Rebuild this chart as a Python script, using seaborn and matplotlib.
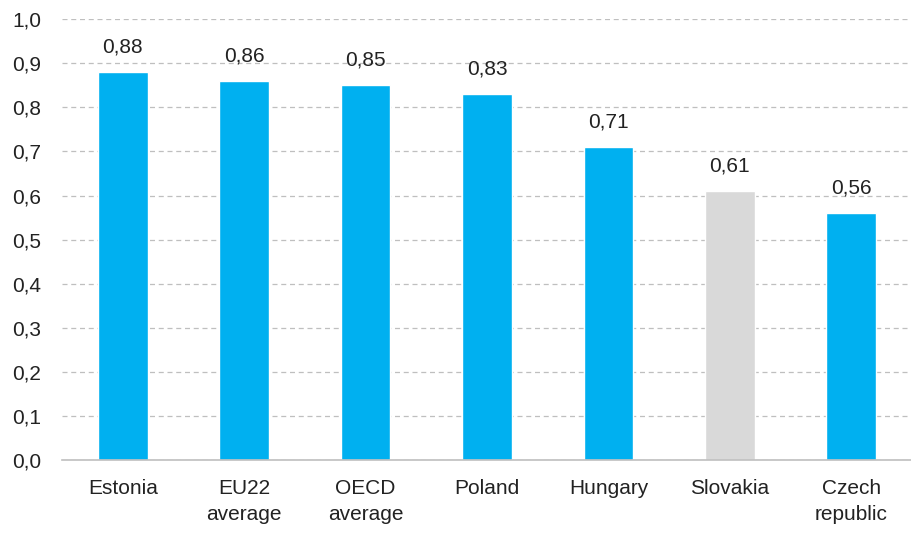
import pandas as pd
import numpy as np
import matplotlib
matplotlib.use("Agg")
import matplotlib.pyplot as plt
import seaborn as sns
from matplotlib.ticker import FuncFormatter, MultipleLocator, FixedLocator

# Data
categories = ['Estonia', 'EU22\naverage', 'OECD\naverage', 'Poland',
              'Hungary', 'Slovakia', 'Czech\nrepublic']
values = [0.88, 0.86, 0.85, 0.83, 0.71, 0.61, 0.56]
bar_colors = ['#00B0F0', '#00B0F0', '#00B0F0', '#00B0F0',
              '#00B0F0', '#D9D9D9', '#00B0F0']

sns.set_style("white")
plt.rcParams['font.family'] = ['Liberation Sans', 'DejaVu Sans']

df = pd.DataFrame({'country': categories, 'value': values})
palette = dict(zip(categories, bar_colors))

fig = plt.figure(figsize=(9.12, 5.33), dpi=100)
ax = fig.add_axes([0.068, 0.137, 0.932, 0.827])

sns.barplot(data=df, x='country', y='value', hue='country', palette=palette,
            width=0.41, saturation=1, legend=False, ax=ax)

# Value labels
for i, v in enumerate(values):
    ax.text(i, v + 0.036, f'{v:.2f}'.replace('.', ','), ha='center',
            va='bottom', fontsize=15, color='#222222')

ax.set_ylim(0, 1.0)
ax.set_xlim(-0.5, len(categories) - 0.5)
ax.yaxis.set_major_locator(MultipleLocator(0.1))
ax.yaxis.set_major_formatter(FuncFormatter(lambda y, _: f'{y:.1f}'.replace('.', ',')))
ax.grid(True, axis='y', linestyle=(0, (4, 3)), color='#BFBFBF', linewidth=0.9)
ax.set_axisbelow(True)

for s in ['top', 'right', 'left']:
    ax.spines[s].set_visible(False)
ax.spines['bottom'].set_color('#BFBFBF')
ax.spines['bottom'].set_linewidth(1.2)

ax.set_xlabel('')
ax.set_ylabel('')
ax.tick_params(axis='y', length=0, labelsize=15, labelcolor='#222222', pad=15)
ax.tick_params(axis='x', which='major', length=0, labelsize=15,
               labelcolor='#222222', pad=14)
for lbl in ax.get_xticklabels():
    lbl.set_linespacing(1.45)
ax.xaxis.set_minor_locator(FixedLocator(np.arange(-0.5, len(categories), 1.0)))
ax.tick_params(axis='x', which='minor', length=7, color='#BFBFBF', width=1.2)

plt.savefig('out.png', dpi=100)
plt.close()
